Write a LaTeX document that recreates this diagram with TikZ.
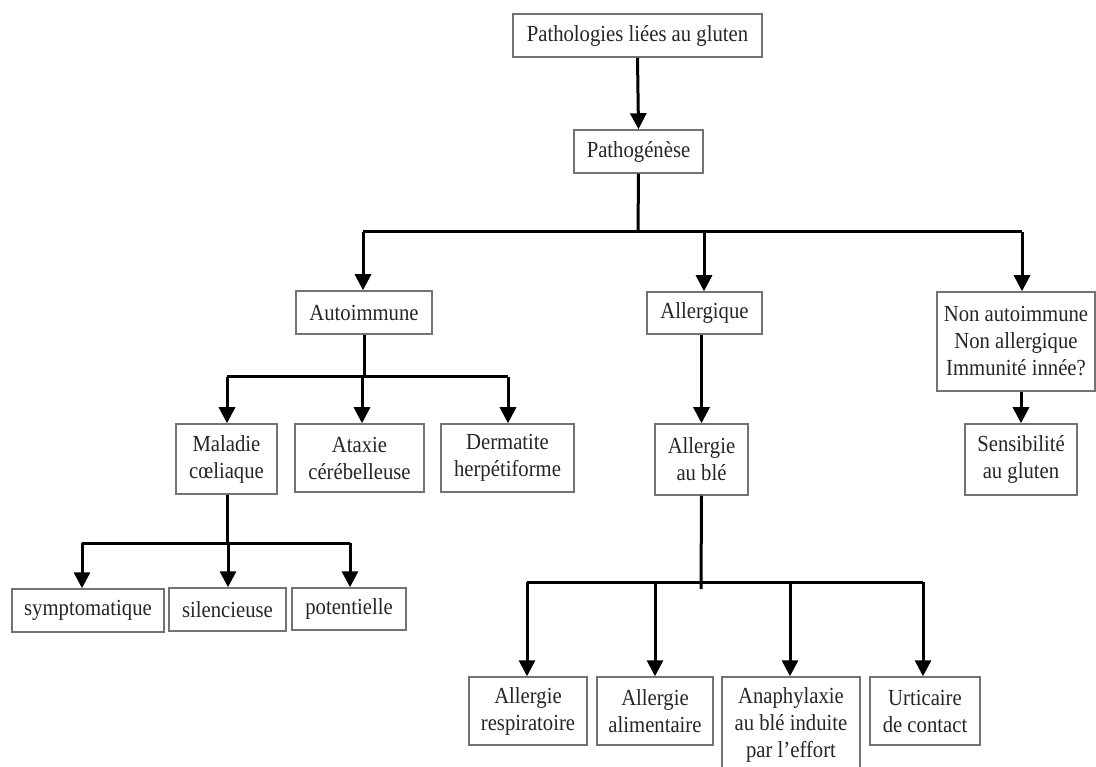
\documentclass[tikz,border=0pt]{standalone}
\usepackage{fontspec}
\setmainfont{Liberation Serif}[FakeStretch=0.9]
\usetikzlibrary{arrows.meta}
\tikzset{
  box/.style={draw=black!55, line width=1.5pt, fill=white, inner sep=0pt, align=center,
    font=\fontsize{23}{27}\selectfont, text=black!85},
  conn/.style={line width=3pt, black},
  arr/.style={conn, -{Triangle[length=16pt,width=16pt]}},
}
\newcommand{\bx}[7]{% name, x1, y1, x2, y2, text
  \node[box, minimum width={#4-#2}, minimum height={#5-#3}, #7] (#1) at ({(#2+#4)/2},{(#3+#5)/2}) {#6};}
\begin{document}
\begin{tikzpicture}[x=1pt,y=-1pt]
\useasboundingbox (0,0) rectangle (1096,767);
% nodes
\bx{top}{513}{14}{762}{57}{Pathologies liées au gluten}{}
\bx{patho}{574}{130}{703}{173}{Pathogénèse}{}
\bx{auto}{296}{291}{432}{334}{Autoimmune}{}
\bx{allerg}{647}{292}{762}{334}{Allergique}{}
\bx{nonauto}{937}{292}{1095}{391}{Non autoimmune\\Non allergique\\Immunité innée?}{}
\bx{sens}{965}{424}{1077}{495}{Sensibilité\\au gluten}{}
\bx{maladie}{176}{424}{277}{494}{Maladie\\cœliaque}{}
\bx{ataxie}{295}{424}{424}{492}{Ataxie\\cérébelleuse}{}
\bx{derm}{441}{424}{574}{492}{Dermatite\\herpétiforme}{}
\bx{allble}{655}{424}{748}{495}{Allergie\\au blé}{}
\bx{symp}{12}{589}{164}{632}{symptomatique}{}
\bx{sil}{169}{588}{286}{631}{silencieuse}{}
\bx{pot}{292}{588}{406}{630}{potentielle}{}
\bx{resp}{469}{677}{587}{745}{Allergie\\respiratoire}{}
\bx{alim}{597}{677}{713}{745}{Allergie\\alimentaire}{}
\bx{anaph}{722}{677}{860}{773}{Anaphylaxie\\au blé induite\\par l’effort}{}
\bx{urt}{870}{677}{980}{745}{Urticaire\\de contact}{}
% bar coordinates
\coordinate (b1) at (638,232);
\coordinate (b1l) at (363,232);
\coordinate (b1m) at (704,232);
\coordinate (b1r) at (1022,232);
\coordinate (b2) at (364,377);
\coordinate (b2l) at (227,377);
\coordinate (b2m) at (362,377);
\coordinate (b2r) at (508,377);
\coordinate (b3) at (227,543);
\coordinate (b3l) at (82,543);
\coordinate (b3m) at (228,543);
\coordinate (b3r) at (350,543);
\coordinate (b4) at (701,589);
\coordinate (b4a) at (527,582);
\coordinate (b4b) at (655,582);
\coordinate (b4c) at (790,582);
\coordinate (b4d) at (923,582);
% connectors
\draw[arr] (top.south) -- (patho.north);
\draw[conn] (patho.south) -- (b1);
\draw[conn] (b1l) -- (b1r);
\draw[arr] (b1l) -- (b1l |- auto.north);
\draw[arr] (b1m) -- (b1m |- allerg.north);
\draw[arr] (b1r) -- (b1r |- nonauto.north);
\draw[arr] (nonauto.south -| sens.north) -- (sens.north);
\draw[conn] (auto.south) -- (b2);
\draw[conn] (b2l) -- (b2r);
\draw[arr] (b2l) -- (b2l |- maladie.north);
\draw[arr] (b2m) -- (b2m |- ataxie.north);
\draw[arr] (b2r) -- (b2r |- derm.north);
\draw[conn] (maladie.south -| b3) -- (b3);
\draw[conn] (b3l) -- (b3r);
\draw[arr] (b3l) -- (b3l |- symp.north);
\draw[arr] (b3m) -- (b3m |- sil.north);
\draw[arr] (b3r) -- (b3r |- pot.north);
\draw[arr] (allerg.south -| allble.north) -- (allble.north);
\draw[conn] (allble.south) -- (b4);
\draw[conn] (b4a) -- (b4d);
\draw[arr] (b4a) -- (b4a |- resp.north);
\draw[arr] (b4b) -- (b4b |- alim.north);
\draw[arr] (b4c) -- (b4c |- anaph.north);
\draw[arr] (b4d) -- (b4d |- urt.north);
\end{tikzpicture}
\end{document}
